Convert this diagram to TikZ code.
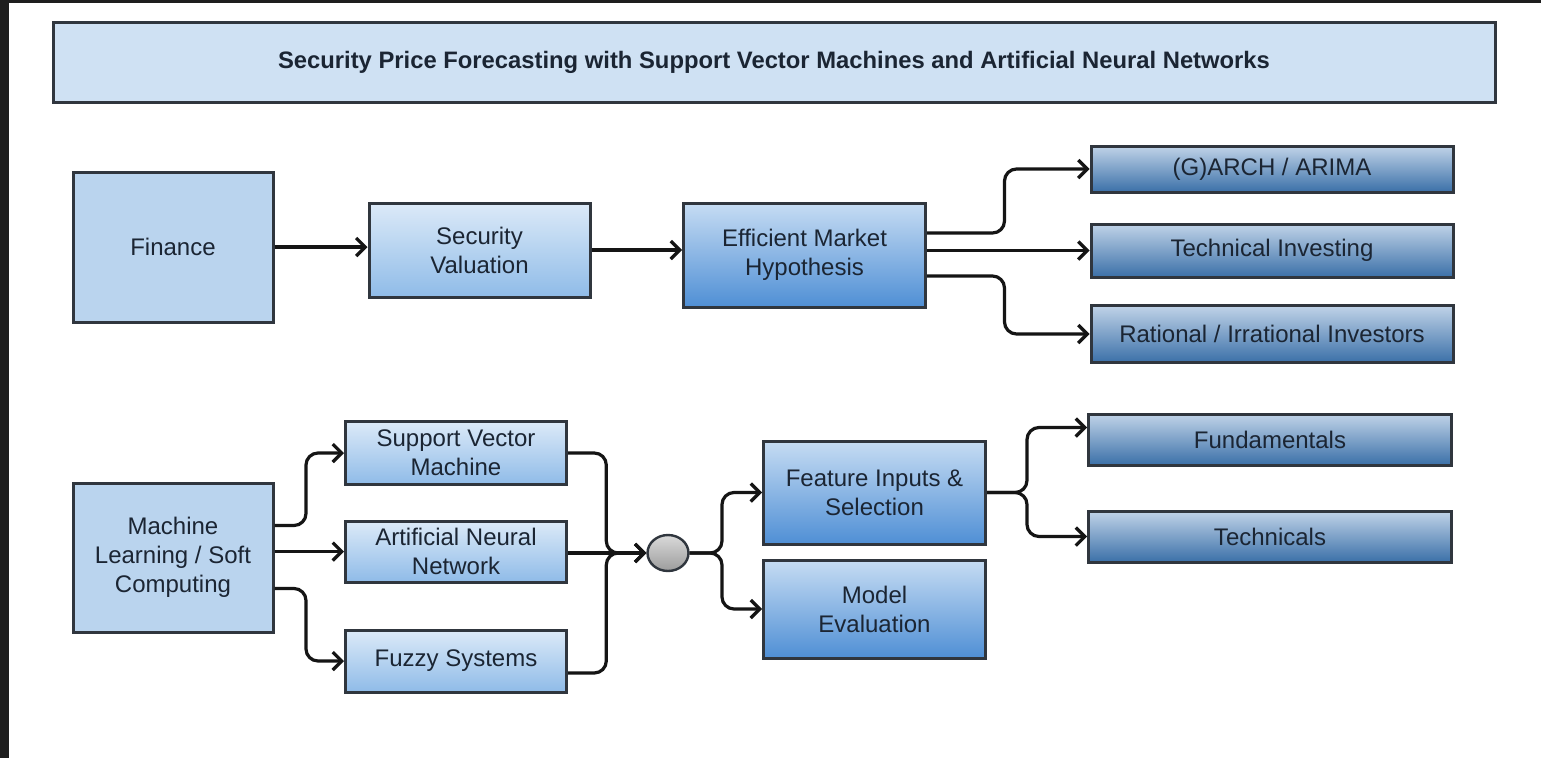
\documentclass[tikz,border=0pt]{standalone}
\usepackage{fontspec}
\setmainfont{Liberation Sans}
\usetikzlibrary{arrows.meta,shapes.geometric,calc,shadings}
\definecolor{framecol}{HTML}{1E1E1E}
\definecolor{bordercol}{HTML}{30363E}
\definecolor{textcol}{HTML}{1B2533}
\definecolor{titlefill}{HTML}{CFE1F3}
\definecolor{flatfill}{HTML}{BAD4EE}
\definecolor{lighttop}{HTML}{DCEAF8}
\definecolor{lightbot}{HTML}{8FBBE8}
\definecolor{midtop}{HTML}{C6DCF3}
\definecolor{midbot}{HTML}{4F8FD5}
\definecolor{darktop}{HTML}{C0D3E8}
\definecolor{darkbot}{HTML}{3B70A8}
\definecolor{circtop}{HTML}{DADADA}
\definecolor{circbot}{HTML}{9C9C9C}
\definecolor{linecol}{HTML}{151515}
\begin{document}
\begin{tikzpicture}[x=1pt,y=-1pt,
  box/.style={draw=bordercol,line width=3pt,text=textcol,align=center,inner sep=0pt,
    font=\fontsize{24}{29}\selectfont},
  flatbox/.style={box,fill=flatfill},
  lightbox/.style={box,top color=lighttop,bottom color=lightbot},
  midbox/.style={box,top color=midtop,bottom color=midbot},
  darkbox/.style={box,top color=darktop,bottom color=darkbot},
  conn/.style={draw=linecol,line width=3.2pt,rounded corners=12pt,
    -{Straight Barb[length=9pt,width=18pt,line width=3.2pt]}}]
\useasboundingbox (0,0) rectangle (1541,758);
\fill[white] (0,0) rectangle (1541,758);
\fill[framecol] (0,0) rectangle (9,758);
\fill[framecol] (0,0) rectangle (1541,3);
% title
\node[draw=bordercol,line width=3pt,fill=titlefill,text=textcol,minimum width=1442,minimum height=80,inner sep=0pt,
  font=\fontsize{23.8}{28}\selectfont\bfseries] (title) at (774,62)
  {Security Price Forecasting with Support Vector Machines and Artificial Neural Networks};
% top row
\node[flatbox,minimum width=200,minimum height=150] (fin) at (173,247) {Finance};
\node[lightbox,minimum width=221,minimum height=94] (sv) at (479.5,250) {Security\\Valuation};
\node[midbox,minimum width=242,minimum height=104] (emh) at (804.5,255) {Efficient Market\\Hypothesis};
\node[darkbox,minimum width=362,minimum height=46] (arch) at (1272,169) {(G)ARCH / ARIMA};
\node[darkbox,minimum width=362,minimum height=53] (ti) at (1272,250.5) {Technical Investing};
\node[darkbox,minimum width=362,minimum height=57] (rat) at (1272,334) {Rational / Irrational Investors};
% bottom row
\node[flatbox,minimum width=200,minimum height=149] (ml) at (173,557.5) {Machine\\Learning / Soft\\Computing};
\node[lightbox,minimum width=221,minimum height=63] (svm) at (456,453) {Support Vector\\Machine};
\node[lightbox,minimum width=221,minimum height=61] (ann) at (456,551.5) {Artificial Neural\\Network};
\node[lightbox,minimum width=221,minimum height=62] (fz) at (456,661) {Fuzzy Systems};
\node[ellipse,draw=bordercol,line width=2.4pt,top color=circtop,bottom color=circbot,
  minimum width=41,minimum height=36,inner sep=0pt] (circ) at (668,553) {};
\node[midbox,minimum width=222,minimum height=103] (feat) at (874.5,492.5) {Feature Inputs \&\\Selection};
\node[midbox,minimum width=222,minimum height=98] (model) at (874.5,609) {Model\\Evaluation};
\node[darkbox,minimum width=363,minimum height=51] (fund) at (1270,439.5) {Fundamentals};
\node[darkbox,minimum width=363,minimum height=51] (tech) at (1270,536.5) {Technicals};
% connectors top
\draw[conn] (fin.east) -- (fin.east -| sv.west);
\draw[conn] (sv.east) -- (sv.east -| emh.west);
\draw[conn] ([yshift=22pt]emh.east) -| ([xshift=-85pt]arch.west) -- (arch.west);
\draw[conn] (emh.east |- ti.west) -- (ti.west);
\draw[conn] ([yshift=-21pt]emh.east) -| ([xshift=-85pt]rat.west) -- (rat.west);
% connectors bottom
\draw[conn] ([yshift=32pt]ml.east) -| ([xshift=-38pt]svm.west) -- (svm.west);
\draw[conn] (ml.east |- ann.west) -- (ann.west);
\draw[conn] ([yshift=-31pt]ml.east) -| ([xshift=-38pt]fz.west) -- (fz.west);
\draw[conn] (svm.east) -| ([xshift=-40pt]circ.west) -- (circ.west);
\draw[conn] (ann.east |- circ.west) -- (circ.west);
\draw[conn] ([yshift=-12pt]fz.east) -| ([xshift=-40pt]circ.west) -- (circ.west);
\draw[conn] (circ.east) -| ([xshift=-40pt]feat.west) -- (feat.west);
\draw[conn] (circ.east) -| ([xshift=-40pt]model.west) -- (model.west);
\draw[conn] (feat.east) -| ([xshift=-60pt,yshift=12pt]fund.west) -- ([yshift=12pt]fund.west);
\draw[conn] (feat.east) -| ([xshift=-60pt]tech.west) -- (tech.west);
\end{tikzpicture}
\end{document}
